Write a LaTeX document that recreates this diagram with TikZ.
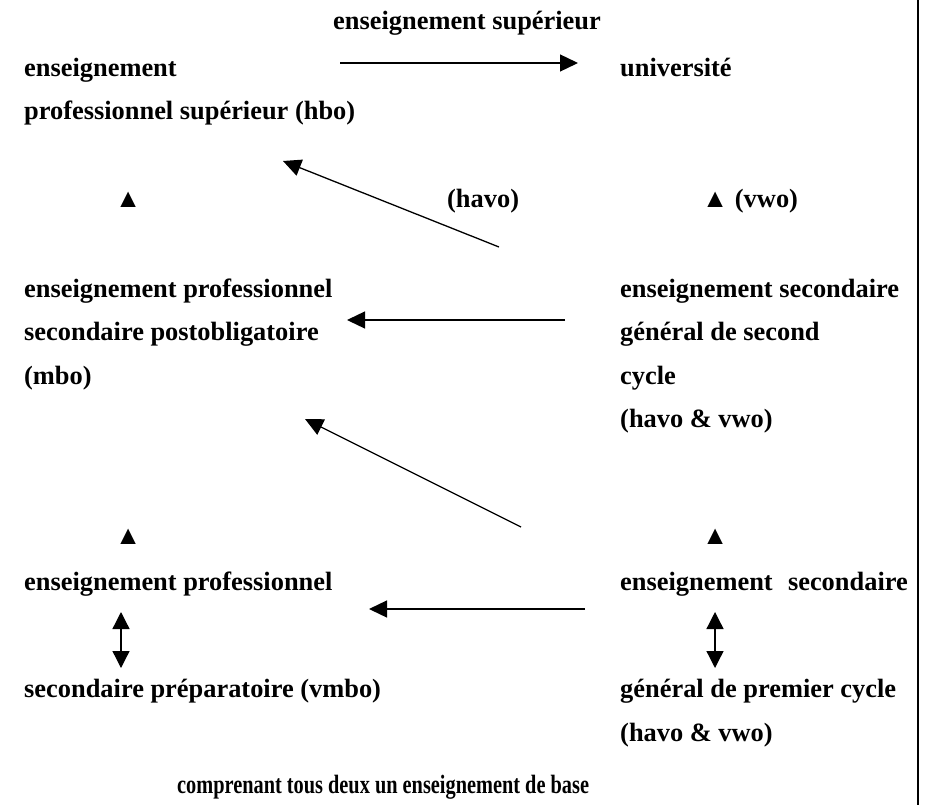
\documentclass[tikz,border=0pt]{standalone}
\usepackage{fontspec}
\usepackage{graphicx}
\setmainfont{Liberation Serif}
\usetikzlibrary{arrows.meta}
\begin{document}
\begin{tikzpicture}[x=1pt,y=-1pt,
  lbl/.style={anchor=base west, inner sep=0pt, font=\bfseries\fontsize{26.4}{30}\selectfont},
  conn/.style={line width=1.3pt, -{Triangle[length=18pt,width=17pt]}},
  both/.style={line width=1.3pt, {Triangle[length=17pt,width=17pt]}-{Triangle[length=17pt,width=17pt]}}]
\useasboundingbox (0,0) rectangle (925,805);

% higher education
\node[lbl] (sup)  at (333,30)  {enseignement supérieur};
\node[lbl] (hbo1) at (24,77)   {enseignement};
\node[lbl] (hbo2) at (24,120)  {professionnel supérieur (hbo)};
\node[lbl] (univ) at (620,77)  {université};

% upward marks and track names
\node[lbl] (upA)  at (115,207) {▲};
\node[lbl] (havo) at (447,207) {(havo)};
\node[lbl] (vwo)  at (702,207) {▲ (vwo)};

% upper secondary
\node[lbl] (mbo1) at (24,297)  {enseignement professionnel};
\node[lbl] (mbo2) at (24,340)  {secondaire postobligatoire};
\node[lbl] (mbo3) at (24,384)  {(mbo)};
\node[lbl] (hv1)  at (620,297) {enseignement secondaire};
\node[lbl] (hv2)  at (620,340) {général de second};
\node[lbl] (hv3)  at (620,384) {cycle};
\node[lbl] (hv4)  at (620,427) {(havo \& vwo)};

% lower secondary
\node[lbl] (upB)  at (115,544) {▲};
\node[lbl] (upC)  at (702,544) {▲};
\node[lbl] (vm1)  at (24,590)  {enseignement professionnel};
\node[lbl] (vm2)  at (24,697)  {secondaire préparatoire (vmbo)};
\node[lbl] (lo1)  at (620,590) {enseignement\hspace{0.58em}secondaire};
\node[lbl] (lo2)  at (620,697) {général de premier cycle};
\node[lbl] (lo3)  at (620,741) {(havo \& vwo)};
\node[lbl] (base) at (177,793) {\scalebox{0.77}[1]{comprenant tous deux un enseignement de base}};

% connector end points
\coordinate (t1) at (340,63);   \coordinate (h1) at (578,63);
\coordinate (t2) at (499,247);  \coordinate (h2) at (283,161);
\coordinate (t3) at (565,320);  \coordinate (h3) at (347,320);
\coordinate (t4) at (521,527);  \coordinate (h4) at (305,419);
\coordinate (t5) at (585,609);  \coordinate (h5) at (369,609);
\coordinate (d1a) at (121,612); \coordinate (d1b) at (121,668);
\coordinate (d2a) at (715,612); \coordinate (d2b) at (715,668);

\draw[conn] (t1) -- (h1);
\draw[conn] (t2) -- (h2);
\draw[conn] (t3) -- (h3);
\draw[conn] (t4) -- (h4);
\draw[conn] (t5) -- (h5);
\draw[both] (d1a) -- (d1b);
\draw[both] (d2a) -- (d2b);

% right border rule
\coordinate (rt) at (918,0); \coordinate (rb) at (918,805);
\draw[line width=1.6pt] (rt) -- (rb);
\end{tikzpicture}
\end{document}
